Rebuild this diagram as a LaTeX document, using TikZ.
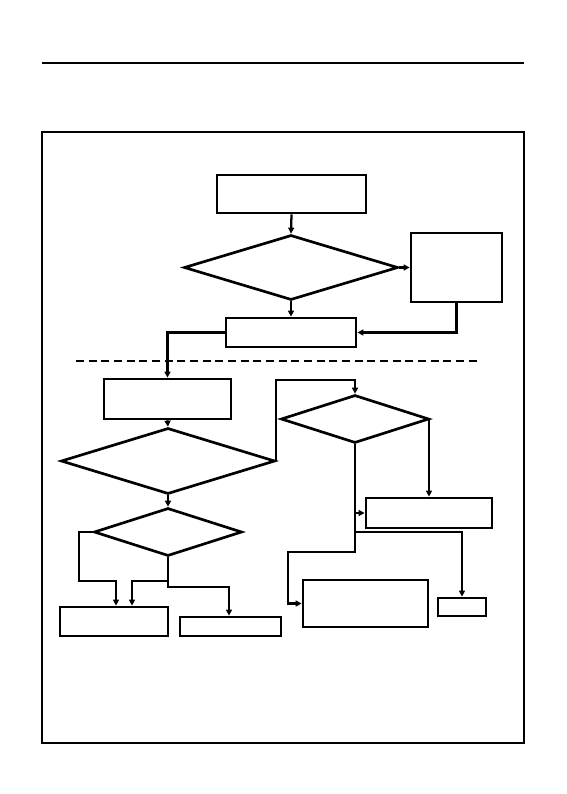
\documentclass[tikz,border=0pt]{standalone}
\usetikzlibrary{shapes.geometric,arrows.meta}
\begin{document}
\begin{tikzpicture}[x=0.75pt,y=-0.75pt,
  bx/.style={draw, rectangle, line width=2.1pt, inner sep=0pt, minimum width=#1},
  dm/.style={draw, diamond, line width=2pt, inner sep=0pt},
  arr/.style={line width=1.7pt, -{Triangle[length=4.5pt,width=4.5pt]}},
  ln/.style={line width=1.7pt}]
\useasboundingbox (0,0) rectangle (567,794);
% top rule and frame
\coordinate (r1) at (42,63); \coordinate (r2) at (524,63);
\draw[line width=0.9pt] (r1) -- (r2);
\coordinate (fr1) at (42,132); \coordinate (fr2) at (524,743);
\draw[line width=0.9pt] (fr1) rectangle (fr2);
% nodes
\node[bx=149*0.75pt, minimum height=38*0.75pt] (A) at (291.5,194) {};
\node[dm, minimum width=214*0.75pt, minimum height=65*0.75pt] (D1) at (291,267.5) {};
\node[bx=91*0.75pt, minimum height=69*0.75pt] (B) at (456.5,267.5) {};
\node[bx=130*0.75pt, minimum height=29*0.75pt] (C) at (291,332.5) {};
\node[bx=127*0.75pt, minimum height=40*0.75pt] (E) at (167.5,399) {};
\node[dm, minimum width=214*0.75pt, minimum height=66*0.75pt] (D2) at (168,461) {};
\node[dm, minimum width=148*0.75pt, minimum height=48*0.75pt] (D3) at (168,532) {};
\node[bx=108*0.75pt, minimum height=29*0.75pt] (F) at (114,621.5) {};
\node[bx=101*0.75pt, minimum height=19*0.75pt] (G) at (230.5,626.5) {};
\node[dm, minimum width=148*0.75pt, minimum height=48*0.75pt] (D4) at (355,419) {};
\node[bx=126*0.75pt, minimum height=30*0.75pt] (H) at (429,513) {};
\node[bx=125*0.75pt, minimum height=47*0.75pt] (J) at (365.5,603.5) {};
\node[bx=48*0.75pt, minimum height=18*0.75pt] (I) at (462,607) {};
% dashed separator
\coordinate (s1) at (76,361); \coordinate (s2) at (477,361);
\draw[line width=1.4pt, dash pattern=on 6pt off 3.5pt] (s1) -- (s2);
% connectors
\draw[arr] (A.south) -- (D1.north);
\draw[arr] (D1.east) -- (B.west);
\draw[arr] (D1.south) -- (C.north);
\draw[arr] (B.south) |- (C.east);
\draw[arr] (C.west) -| (E.north);
\draw[arr] (E.south) -- (D2.north);
\coordinate (k1) at (355,380);
\draw[arr] (D2.east) |- (k1) -- (D4.north);
\draw[arr] (D2.south) -- (D3.north);
\coordinate (p1) at (79,581); \coordinate (p2) at (116,581);
\draw[arr] (D3.west) -| (p1) -- (p2) -- (p2 |- F.north);
\coordinate (p4) at (132,581);
\draw[arr] (D3.south |- p4) -- (p4) -- (p4 |- F.north);
\coordinate (p5) at (229,587);
\draw[arr] (D3.south) |- (p5) -- (p5 |- G.north);
\draw[arr] (D4.east) -| (H.north);
\coordinate (q1) at (355,552); \coordinate (q2) at (288,552);
\draw[arr] (D4.south) -- (q1) -- (q2) |- (J.west);
\draw[arr] (D4.south |- H.west) -- (H.west);
\coordinate (q3) at (355,532);
\draw[arr] (q3) -| (I.north);
\end{tikzpicture}
\end{document}
